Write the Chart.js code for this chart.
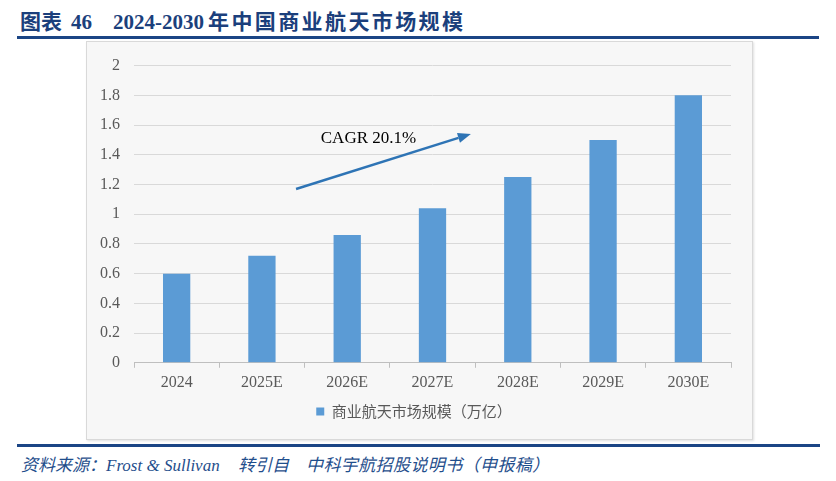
<!DOCTYPE html>
<html>
<head>
<meta charset="utf-8">
<script src="https://cdn.jsdelivr.net/npm/chart.js@4/dist/chart.umd.min.js"></script>
<style>
  body { margin: 0; background: #fff; width: 836px; height: 481px; position: relative; overflow: hidden; }
  .title { position: absolute; top: 10px; font: bold 21px "Liberation Serif", "Noto Sans CJK SC", serif; line-height: 24px; color: #1b3f7c; white-space: pre; }
  #topLine { position: absolute; left: 17px; top: 36px; width: 802px; height: 3px; background: #1b4585; }
  #box { position: absolute; left: 86px; top: 41px; width: 665px; height: 397px; background: #f7f7f7; border: 1px solid #d9d9d9; box-shadow: 1px 1px 2px rgba(0,0,0,0.12); }
  #bottomLine { position: absolute; left: 17px; top: 444px; width: 803px; height: 3px; background: #1b4585; }
  .src { position: absolute; top: 456px; font: italic 17px "Liberation Serif", "Noto Sans CJK SC", serif; line-height: 20px; color: #1f4e8c; white-space: pre; }
</style>
</head>
<body>
<div class="title" style="left:20px">图表</div>
<div class="title" style="left:71px">46</div>
<div class="title" style="left:113px">2024-2030</div>
<div class="title" style="left:208px; letter-spacing:2.4px">年中国商业航天市场规模</div>
<div id="topLine"></div>
<div id="box"><canvas id="chart" width="665" height="397"></canvas></div>
<div id="bottomLine"></div>
<div class="src" style="left:21px">资料来源：Frost &amp; Sullivan</div>
<div class="src" style="left:238px">转引自</div>
<div class="src" style="left:306px; letter-spacing:0.4px">中科宇航招股说明书（申报稿）</div>
<script>
// 数据
const years = ['2024', '2025E', '2026E', '2027E', '2028E', '2029E', '2030E'];
const marketSize = [0.60, 0.72, 0.86, 1.04, 1.25, 1.50, 1.80];
const seriesName = '商业航天市场规模（万亿）';
const yTicks = [0, 0.2, 0.4, 0.6, 0.8, 1, 1.2, 1.4, 1.6, 1.8, 2];

// CAGR 箭头（数据坐标）
const cagrArrow = {
    text: 'CAGR 20.1%',
    from: { x: 1.4, y: 1.17 },
    to: { x: 3.45, y: 1.54 },
    label: { x: 1.69, y: 1.51 }
};

// 箭头插件
const arrowPlugin = {
    id: 'cagrArrow',
    afterDatasetsDraw(chart) {
        const { ctx, scales } = chart;
        const x1 = scales.x.getPixelForValue(cagrArrow.from.x);
        const y1 = scales.y.getPixelForValue(cagrArrow.from.y);
        const x2 = scales.x.getPixelForValue(cagrArrow.to.x);
        const y2 = scales.y.getPixelForValue(cagrArrow.to.y);
        const angle = Math.atan2(y2 - y1, x2 - x1);
        const headLen = 13, headW = 5;

        ctx.save();
        ctx.strokeStyle = '#2e74b5';
        ctx.fillStyle = '#2e74b5';
        ctx.lineWidth = 2.5;
        ctx.beginPath();
        ctx.moveTo(x1, y1);
        ctx.lineTo(x2 - headLen * Math.cos(angle), y2 - headLen * Math.sin(angle));
        ctx.stroke();

        // 箭头头部
        ctx.beginPath();
        ctx.moveTo(x2, y2);
        ctx.lineTo(x2 - headLen * Math.cos(angle) + headW * Math.sin(angle),
                   y2 - headLen * Math.sin(angle) - headW * Math.cos(angle));
        ctx.lineTo(x2 - headLen * Math.cos(angle) - headW * Math.sin(angle),
                   y2 - headLen * Math.sin(angle) + headW * Math.cos(angle));
        ctx.closePath();
        ctx.fill();

        // 文字
        ctx.fillStyle = '#000';
        ctx.font = '17px "Liberation Serif", serif';
        ctx.textAlign = 'left';
        ctx.textBaseline = 'middle';
        ctx.fillText(cagrArrow.text,
            scales.x.getPixelForValue(cagrArrow.label.x),
            scales.y.getPixelForValue(cagrArrow.label.y));
        ctx.restore();
    }
};

const ctx = document.getElementById('chart').getContext('2d');
new Chart(ctx, {
    type: 'bar',
    data: {
        labels: years,
        datasets: [{
            label: seriesName,
            data: marketSize,
            backgroundColor: '#5b9bd5',
            barPercentage: 0.32,
            categoryPercentage: 1.0
        }]
    },
    options: {
        responsive: false,
        animation: false,
        layout: {
            autoPadding: false,
            padding: { left: 10, right: 21, top: 17, bottom: 10 }
        },
        scales: {
            y: {
                min: 0,
                max: 2,
                afterBuildTicks(axis) {
                    axis.ticks = yTicks.map(v => ({ value: v }));
                },
                afterFit(axis) {
                    axis.width = 37;
                },
                border: { display: false },
                grid: {
                    color: '#d9d9d9',
                    lineWidth: 1,
                    drawTicks: false
                },
                ticks: {
                    color: '#595959',
                    padding: 14,
                    font: { family: '"Liberation Serif", serif', size: 16 },
                    callback: v => String(Math.round(v * 10) / 10)
                }
            },
            x: {
                border: { color: '#bfbfbf', width: 1 },
                grid: {
                    drawOnChartArea: false,
                    drawTicks: true,
                    tickLength: 5,
                    color: '#bfbfbf'
                },
                ticks: {
                    color: '#595959',
                    padding: 5,
                    font: { family: '"Liberation Serif", serif', size: 16 }
                }
            }
        },
        plugins: {
            legend: {
                position: 'bottom',
                labels: {
                    boxWidth: 8,
                    boxHeight: 8,
                    color: '#595959',
                    padding: 7,
                    font: { family: '"Noto Sans CJK SC", sans-serif', size: 15 }
                }
            },
            tooltip: { enabled: false },
            title: { display: false }
        }
    },
    plugins: [arrowPlugin]
});
</script>
</body>
</html>
